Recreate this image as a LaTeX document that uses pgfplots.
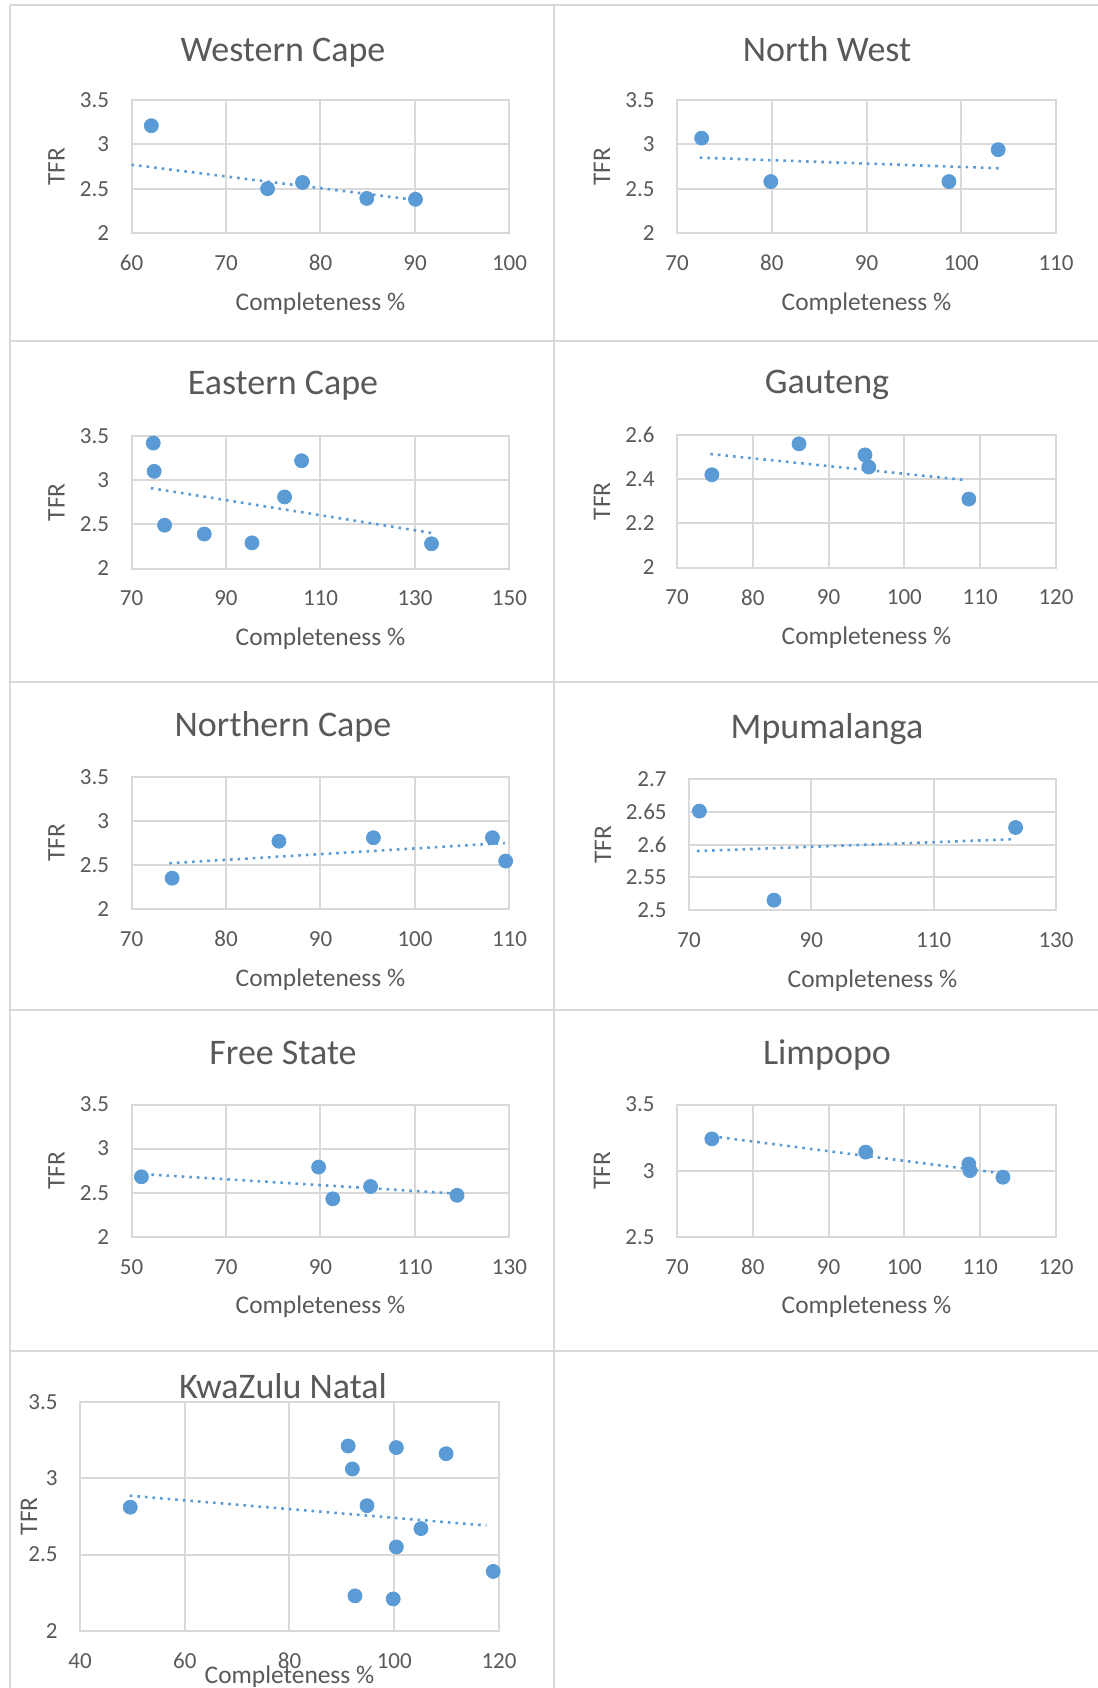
\documentclass[border=0pt]{standalone}
\usepackage{fontspec}
\setmainfont{Carlito}
\usepackage{pgfplots}
\pgfplotsset{compat=1.18}
\definecolor{dotblue}{HTML}{5B9BD5}
\definecolor{gridgray}{HTML}{D9D9D9}
\definecolor{txt}{HTML}{595959}
\newcommand\labfont{\fontsize{12.7}{14}\selectfont}
\pgfplotsset{
  panel/.style={
    scale only axis, anchor=south west, clip=false,
    axis line style={gridgray, line width=1pt},
    grid=major, major grid style={gridgray, line width=1pt},
    major tick length=0pt,
    tick label style={font=\fontsize{11.5}{13}\selectfont, text=txt, inner sep=0pt},
    xticklabel style={anchor=center, yshift=-15pt},
    yticklabel style={anchor=east, xshift=-11pt},
    /pgf/number format/assume math mode=true,
    xlabel={\labfont Completeness \%}, ylabel={\labfont TFR},
    every axis x label/.style={at={(rel axis cs:0.5,0)}, anchor=base, yshift=-38.5pt, text=txt, inner sep=0pt},
    every axis y label/.style={at={(rel axis cs:0,0.5)}, xshift=-37.5pt, rotate=90, anchor=center, text=txt, inner sep=0pt},
  },
  sc/.style={only marks, mark=*, mark size=3.5pt, color=dotblue},
  tr/.style={no marks, dotblue, line width=1.3pt, dash pattern=on 1.3pt off 2.5pt},
}
\begin{document}
\begin{tikzpicture}
\path[use as bounding box] (0,0) rectangle (549pt,-844pt);
\begin{scope}[x=0.5pt, y=-0.5pt]
\draw[gridgray, line width=1pt] (10,5) -- (10,1688);
\draw[gridgray, line width=1pt] (554,5) -- (554,1688);
\foreach \yy in {5,340.5,681.5,1010,1351}{
  \draw[gridgray, line width=1pt] (10,\yy) -- (1098,\yy);
}
\tikzset{ttl/.style={anchor=base, font=\fontsize{18}{20}\selectfont, text=txt, inner sep=0pt}}
\node[ttl] at (283,61) {Western Cape};
\node[ttl] at (827,61) {North West};
\node[ttl] at (283,394) {Eastern Cape};
\node[ttl] at (827,393) {Gauteng};
\node[ttl] at (283,736) {Northern Cape};
\node[ttl] at (827,738) {Mpumalanga};
\node[ttl] at (283,1064) {Free State};
\node[ttl] at (827,1064) {Limpopo};
\node[ttl] at (283,1398) {KwaZulu Natal};
\end{scope}

% Western Cape
\begin{axis}[panel, at={(65.75pt,-116.5pt)}, width=189pt, height=66.5pt,
  xmin=60, xmax=100, xtick={60,70,80,90,100},
  ymin=2, ymax=3.5, ytick={2,2.5,3,3.5}]
\addplot[tr] coordinates {(60,2.77) (89.5,2.38)};
\addplot[sc] coordinates {(62.1,3.21) (74.4,2.50) (78.1,2.57) (84.9,2.39) (90.05,2.38)};
\end{axis}

% North West
\begin{axis}[panel, at={(338.5pt,-116.5pt)}, width=189.5pt, height=66.5pt,
  xmin=70, xmax=110, xtick={70,80,90,100,110},
  ymin=2, ymax=3.5, ytick={2,2.5,3,3.5}]
\addplot[tr] coordinates {(72.4,2.85) (104,2.73)};
\addplot[sc] coordinates {(72.6,3.07) (79.9,2.58) (98.7,2.58) (103.9,2.94)};
\end{axis}

% Eastern Cape
\begin{axis}[panel, at={(65.75pt,-284.25pt)}, width=189pt, height=66.25pt,
  xmin=70, xmax=150, xtick={70,90,110,130,150},
  ymin=2, ymax=3.5, ytick={2,2.5,3,3.5}]
\addplot[tr] coordinates {(74.1,2.91) (133.8,2.40)};
\addplot[sc] coordinates {(74.6,3.42) (74.8,3.10) (77.0,2.49) (85.4,2.39) (95.5,2.29) (102.4,2.81) (106.0,3.22) (133.5,2.28)};
\end{axis}

% Gauteng
\begin{axis}[panel, at={(338.5pt,-283.75pt)}, width=189.5pt, height=66.25pt,
  xmin=70, xmax=120, xtick={70,80,90,100,110,120},
  ymin=2, ymax=2.6, ytick={2,2.2,2.4,2.6}]
\addplot[tr] coordinates {(74.4,2.514) (108.1,2.396)};
\addplot[sc] coordinates {(74.6,2.42) (86.1,2.56) (94.8,2.51) (95.3,2.455) (108.5,2.31)};
\end{axis}

% Northern Cape
\begin{axis}[panel, at={(65.75pt,-454.5pt)}, width=189pt, height=66pt,
  xmin=70, xmax=110, xtick={70,80,90,100,110},
  ymin=2, ymax=3.5, ytick={2,2.5,3,3.5}]
\addplot[tr] coordinates {(74,2.52) (109.5,2.75)};
\addplot[sc] coordinates {(74.3,2.35) (85.6,2.77) (95.6,2.81) (108.2,2.81) (109.6,2.545)};
\end{axis}

% Mpumalanga
\begin{axis}[panel, at={(344.5pt,-455pt)}, width=183.5pt, height=65.5pt,
  xmin=70, xmax=130, xtick={70,90,110,130},
  ymin=2.5, ymax=2.7, ytick={2.5,2.55,2.6,2.65,2.7},
  every axis y label/.style={at={(rel axis cs:0,0.5)}, xshift=-43pt, rotate=90, anchor=center, text=txt, inner sep=0pt}]
\addplot[tr] coordinates {(71.3,2.590) (122.7,2.608)};
\addplot[sc] coordinates {(71.7,2.651) (83.9,2.515) (123.4,2.626)};
\end{axis}

% Free State
\begin{axis}[panel, at={(65.75pt,-618.35pt)}, width=189pt, height=66.1pt,
  xmin=50, xmax=130, xtick={50,70,90,110,130},
  ymin=2, ymax=3.5, ytick={2,2.5,3,3.5}]
\addplot[tr] coordinates {(52.6,2.71) (118.6,2.49)};
\addplot[sc] coordinates {(52.1,2.68) (89.6,2.79) (92.6,2.43) (100.6,2.57) (118.9,2.47)};
\end{axis}

% Limpopo
\begin{axis}[panel, at={(338.5pt,-618.35pt)}, width=189.5pt, height=66.1pt,
  xmin=70, xmax=120, xtick={70,80,90,100,110,120},
  ymin=2.5, ymax=3.5, ytick={2.5,3,3.5}]
\addplot[tr] coordinates {(74.6,3.26) (112.8,2.98)};
\addplot[sc] coordinates {(74.6,3.24) (94.9,3.14) (108.5,3.05) (108.65,3.0) (113.0,2.95)};
\end{axis}

% KwaZulu Natal
\begin{axis}[panel, at={(40pt,-815.5pt)}, width=209.5pt, height=114.65pt,
  xmin=40, xmax=120, xtick={40,60,80,100,120},
  ymin=2, ymax=3.5, ytick={2,2.5,3,3.5},
  every axis x label/.style={at={(rel axis cs:0.5,0)}, anchor=base, yshift=-26pt, text=txt, inner sep=0pt},
  every axis y label/.style={at={(rel axis cs:0,0.5)}, xshift=-25.5pt, rotate=90, anchor=center, text=txt, inner sep=0pt}]
\addplot[tr] coordinates {(49.5,2.885) (117.6,2.69)};
\addplot[sc] coordinates {(49.6,2.81) (91.2,3.21) (92.0,3.06) (92.5,2.23) (94.8,2.82) (100.4,3.20) (100.4,2.55) (99.8,2.21) (105.1,2.67) (109.9,3.16) (118.9,2.39)};
\end{axis}
\end{tikzpicture}
\end{document}
